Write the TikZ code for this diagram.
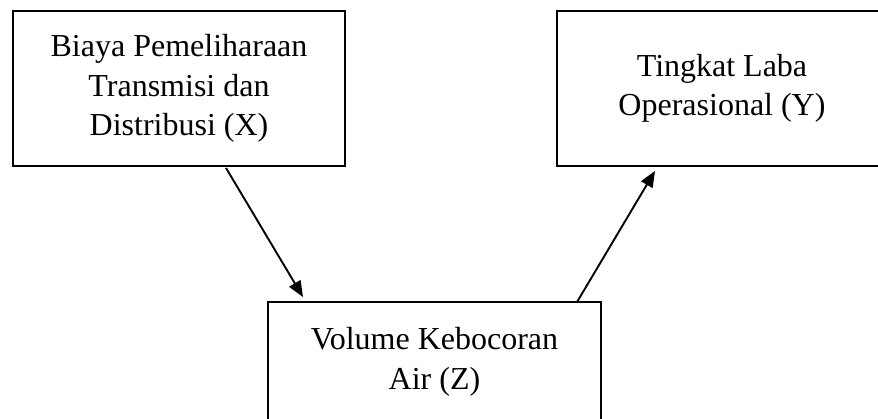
\documentclass[tikz,border=0pt]{standalone}
\usepackage{fontspec}
\setmainfont{Liberation Serif}
\usetikzlibrary{arrows.meta}
\begin{document}
\begin{tikzpicture}[x=1pt,y=-1pt,
  varbox/.style={draw=black,line width=1.9pt,rectangle,inner sep=0pt,
    align=center,font=\fontsize{32}{39.5}\selectfont},
  conn/.style={line width=1.9pt,-{Triangle[length=16pt,width=13pt]}}]
\useasboundingbox (0,0) rectangle (878,419);
\clip (0,0) rectangle (878,419);
\node[varbox,minimum width=332pt,minimum height=155pt] (X) at (179,88.5)
  {Biaya Pemeliharaan\\Transmisi dan\\Distribusi (X)};
\node[varbox,minimum width=330pt,minimum height=155pt] (Y) at (722,88.5)
  {Tingkat Laba\\Operasional (Y)};
\node[varbox,minimum width=333pt,minimum height=120pt] (Z) at (434.5,362)
  {Volume Kebocoran\\Air (Z)};
\draw[conn] ([xshift=47pt,yshift=-1pt]X.south) -- ([xshift=-131.5pt,yshift=4pt]Z.north);
\draw[conn] ([xshift=142.5pt,yshift=-1pt]Z.north) -- ([xshift=-67pt,yshift=-4pt]Y.south);
\end{tikzpicture}
\end{document}
